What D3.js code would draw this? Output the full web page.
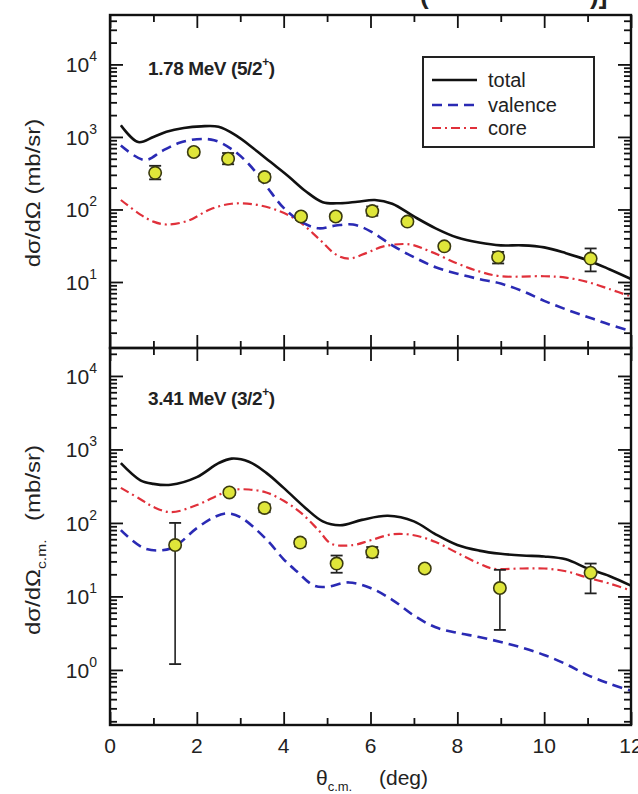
<!DOCTYPE html>
<html>
<head>
<meta charset="utf-8">
<script src="https://cdn.jsdelivr.net/npm/d3@7.9.0/dist/d3.min.js"></script>
<style>
  body { margin: 0; background: #fff; }
  text { font-family: "Liberation Sans", Arial, sans-serif; fill: #222; }
</style>
</head>
<body>
<svg id="chart" width="638" height="794"></svg>
<script>
// ---- data (angle in deg, cross section in mb/sr) ----
// top panel: 1.78 MeV (5/2+)
const topTotalX = [0.25, 0.65, 1.0, 1.3, 1.7, 2.1, 2.5, 2.9, 3.3, 3.7, 4.1, 4.5, 4.9, 5.3, 5.7, 6.1, 6.5, 7.0, 7.5, 8.0, 8.5, 9.0, 9.5, 10.0, 10.5, 11.0, 11.5, 12.0];
const topTotalY = [1450, 850, 1000, 1180, 1330, 1400, 1380, 1050, 700, 450, 290, 180, 126, 122, 128, 135, 120, 80, 55, 41, 35, 32, 32, 30, 25, 20, 15, 11];
const topValX = [0.25, 0.8, 1.2, 1.6, 2.0, 2.4, 2.8, 3.2, 3.6, 4.0, 4.4, 4.8, 5.2, 5.6, 6.0, 6.5, 7.0, 7.5, 8.0, 8.5, 9.0, 9.5, 10.0, 10.5, 11.0, 11.5, 12.0];
const topValY = [760, 480, 640, 830, 930, 900, 680, 420, 210, 105, 68, 55, 60, 62, 50, 32, 22, 16, 13, 11, 9.5, 7.5, 5.5, 4.2, 3.3, 2.6, 2.1];
const topCoreX = [0.25, 0.7, 1.0, 1.3, 1.8, 2.3, 2.8, 3.3, 3.8, 4.3, 4.8, 5.2, 5.5, 5.9, 6.3, 6.9, 7.4, 8.0, 8.5, 9.0, 10.0, 10.5, 11.0, 11.5, 12.0];
const topCoreY = [135, 85, 68, 62, 70, 100, 120, 118, 100, 72, 40, 24, 21, 25, 31, 33, 26, 18, 14, 12, 12, 11.5, 10, 8, 6.3];
const topDataX = [1.04, 1.93, 2.72, 3.56, 4.4, 5.2, 6.04, 6.85, 7.7, 8.94, 11.07];
const topDataY = [320, 620, 500, 280, 80, 80, 95, 68, 31, 22, 21];
const topDataLo = [260, 560, 420, 250, 72, 72, 82, 62, 28, 18, 14];
const topDataHi = [400, 680, 600, 310, 88, 88, 110, 74, 34, 26, 29];

// bottom panel: 3.41 MeV (3/2+)
const botTotalX = [0.25, 0.7, 1.0, 1.4, 2.0, 2.5, 2.8, 3.2, 3.6, 4.0, 4.5, 4.9, 5.3, 5.8, 6.4, 7.0, 7.5, 8.0, 8.5, 9.0, 9.5, 10.0, 10.5, 11.0, 11.5, 12.0];
const botTotalY = [650, 380, 340, 330, 420, 650, 750, 680, 480, 300, 160, 105, 93, 110, 125, 105, 70, 50, 42, 38, 36, 35, 32, 24, 19, 14];
const botValX = [0.25, 0.8, 1.4, 2.0, 2.4, 2.7, 3.0, 3.6, 4.0, 4.3, 4.7, 5.0, 5.5, 6.0, 6.5, 7.0, 7.5, 8.0, 8.5, 9.0, 9.5, 10.0, 10.5, 11.0, 11.5, 12.0];
const botValY = [80, 45, 45, 85, 120, 135, 120, 60, 32, 22, 14, 13.5, 15.5, 13, 9, 5.5, 3.8, 3.2, 2.8, 2.4, 2.0, 1.6, 1.2, 0.85, 0.65, 0.52];
const botCoreX = [0.25, 0.7, 1.0, 1.4, 2.0, 2.5, 2.8, 3.2, 3.6, 4.0, 4.4, 4.8, 5.1, 5.6, 6.0, 6.5, 7.0, 7.5, 8.0, 8.5, 8.8, 9.5, 10.0, 10.5, 11.0, 11.5, 12.0];
const botCoreY = [300, 210, 165, 140, 175, 240, 280, 285, 260, 200, 137, 80, 52, 50, 58, 70, 68, 55, 39, 28, 24, 24, 24, 22, 18, 15, 12];
const botDataX = [1.5, 2.75, 3.56, 4.38, 5.22, 6.04, 7.25, 8.98, 11.07];
const botDataY = [50, 260, 160, 54, 28, 40, 24, 13, 21];
const botDataLo = [1.2, 240, 140, 48, 21, 34, 22, 3.5, 11];
const botDataHi = [100, 285, 180, 60, 36, 47, 26, 23, 28];

const xMajor = [0, 2, 4, 6, 8, 10, 12];
const xMinor = [1, 3, 5, 7, 9, 11];
const legendLabels = ['total', 'valence', 'core'];

// ---- layout ----
const svg = d3.select('#chart');
const left = 110, right = 631;
const x = d3.scaleLinear().domain([0, 12]).range([left, right]);

const styles = {
  total: { stroke: '#111', width: 2.6, dash: null },
  valence: { stroke: '#2a2ab4', width: 2.6, dash: '10,6' },
  core: { stroke: '#e0303a', width: 2.2, dash: '9,4,2,4' }
};

const panels = [
  {
    top: 15, bottom: 348, domain: [1.23, 4.8e4], majors: [1e1, 1e2, 1e3, 1e4],
    label: '1.78 MeV (5/2', labelY: 75,
    curves: [['total', topTotalX, topTotalY], ['valence', topValX, topValY], ['core', topCoreX, topCoreY]],
    pts: [topDataX, topDataY, topDataLo, topDataHi], titleSub: null, titleY: 193
  },
  {
    top: 348, bottom: 725, domain: [0.178, 2.4e4], majors: [1e0, 1e1, 1e2, 1e3, 1e4],
    label: '3.41 MeV (3/2', labelY: 405,
    curves: [['total', botTotalX, botTotalY], ['valence', botValX, botValY], ['core', botCoreX, botCoreY]],
    pts: [botDataX, botDataY, botDataLo, botDataHi], titleSub: 'c.m.', titleY: 540
  }
];

function minorsFor(domain) {
  const out = [];
  for (let e = -1; e <= 5; e++) {
    for (let m = 2; m <= 9; m++) {
      const v = m * Math.pow(10, e);
      if (v > domain[0] && v < domain[1]) out.push(v);
    }
  }
  return out;
}

panels.forEach((p, pi) => {
  const y = d3.scaleLog().domain(p.domain).range([p.bottom, p.top]);
  const g = svg.append('g');

  const clipId = 'clip' + pi;
  svg.append('clipPath').attr('id', clipId)
    .append('rect').attr('x', left).attr('y', p.top).attr('width', right - left).attr('height', p.bottom - p.top);

  // curves
  const line = d3.line()
    .x((d) => x(d[0]))
    .y((d) => y(d[1]))
    .curve(d3.curveCatmullRom.alpha(0.5));
  const curveG = g.append('g').attr('clip-path', `url(#${clipId})`);
  // draw core first, then valence, total on top
  [2, 1, 0].forEach((ci) => {
    const [name, xs, ys] = p.curves[ci];
    const st = styles[name];
    curveG.append('path')
      .attr('d', line(xs.map((v, i) => [v, ys[i]])))
      .attr('fill', 'none')
      .attr('stroke', st.stroke)
      .attr('stroke-width', st.width)
      .attr('stroke-dasharray', st.dash)
      .attr('stroke-linecap', 'butt');
  });

  // data with error bars
  const [dx, dy, dlo, dhi] = p.pts;
  const capW = 6;
  dx.forEach((v, i) => {
    const cx = x(v);
    const eg = g.append('g');
    eg.append('line').attr('x1', cx).attr('x2', cx).attr('y1', y(dlo[i])).attr('y2', y(dhi[i]))
      .attr('stroke', '#222').attr('stroke-width', 1.6);
    [dlo[i], dhi[i]].forEach((e) => {
      eg.append('line').attr('x1', cx - capW).attr('x2', cx + capW).attr('y1', y(e)).attr('y2', y(e))
        .attr('stroke', '#222').attr('stroke-width', 1.8);
    });
    eg.append('circle').attr('cx', cx).attr('cy', y(dy[i])).attr('r', 6.2)
      .attr('fill', '#dfe63a').attr('stroke', '#3b3b10').attr('stroke-width', 1.6);
  });

  // axes: ticks pointing inward on all four sides
  const minors = minorsFor(p.domain);
  const addY = (axisFn, xpos, values, size) => {
    g.append('g').attr('transform', `translate(${xpos},0)`)
      .call(axisFn(y).tickValues(values).tickSizeInner(-size).tickSizeOuter(0).tickFormat(''))
      .call((a) => a.select('.domain').remove())
      .call((a) => a.selectAll('line').attr('stroke', '#111').attr('stroke-width', 1.8));
  };
  addY(d3.axisLeft, left, p.majors, 13);
  addY(d3.axisLeft, left, minors, 7);
  addY(d3.axisRight, right, p.majors, 13);
  addY(d3.axisRight, right, minors, 7);

  const addX = (axisFn, ypos, values, size) => {
    g.append('g').attr('transform', `translate(0,${ypos})`)
      .call(axisFn(x).tickValues(values).tickSizeInner(-size).tickSizeOuter(0).tickFormat(''))
      .call((a) => a.select('.domain').remove())
      .call((a) => a.selectAll('line').attr('stroke', '#111').attr('stroke-width', 1.8));
  };
  addX(d3.axisBottom, p.bottom, xMajor, 13);
  addX(d3.axisBottom, p.bottom, xMinor, 7);
  addX(d3.axisTop, p.top, xMajor, 13);
  addX(d3.axisTop, p.top, xMinor, 7);

  // y tick labels 10^n
  p.majors.forEach((v) => {
    const t = g.append('text').attr('x', 97).attr('y', y(v) + 8)
      .attr('text-anchor', 'end').attr('font-size', 21);
    t.append('tspan').text('10');
    t.append('tspan').attr('font-size', 14).attr('dy', -11).text(Math.round(Math.log10(v)));
  });

  // panel label
  const lab = g.append('text').attr('x', 148).attr('y', p.labelY)
    .attr('font-size', 19).attr('font-weight', 'bold').attr('letter-spacing', -0.4);
  lab.append('tspan').text(p.label);
  lab.append('tspan').attr('font-size', 12).attr('dy', -9).text('+');
  lab.append('tspan').attr('dy', 9).text(')');

  // y-axis title
  const yt = g.append('text')
    .attr('transform', `translate(40,${p.titleY}) rotate(-90) scale(1.2,1)`)
    .attr('text-anchor', 'middle').attr('font-size', 20);
  yt.append('tspan').text('d\u03c3/d\u03a9');
  if (p.titleSub) {
    yt.append('tspan').attr('font-size', 13).attr('dy', 6).text(p.titleSub);
    yt.append('tspan').attr('dy', -6).text('\u2002 (mb/sr)');
  } else {
    yt.append('tspan').text(' (mb/sr)');
  }

  // frame
  g.append('rect').attr('x', left).attr('y', p.top).attr('width', right - left).attr('height', p.bottom - p.top)
    .attr('fill', 'none').attr('stroke', '#111').attr('stroke-width', 2.4);
});

// x tick labels and title
xMajor.forEach((v) => {
  svg.append('text').attr('x', x(v)).attr('y', 753).attr('text-anchor', 'middle')
    .attr('font-size', 21).text(v);
});
const xt = svg.append('text').attr('x', 372).attr('y', 785).attr('text-anchor', 'middle').attr('font-size', 21);
xt.append('tspan').text('\u03b8');
xt.append('tspan').attr('font-size', 13).attr('dy', 6).text('c.m.');
xt.append('tspan').attr('dy', -6).text('\u2003 (deg)');

// legend
const lg = svg.append('g');
lg.append('rect').attr('x', 423).attr('y', 57).attr('width', 171).attr('height', 90)
  .attr('fill', '#fff').attr('stroke', '#222').attr('stroke-width', 2);
const rowY = [80, 105, 128];
legendLabels.forEach((name, i) => {
  const st = styles[name];
  lg.append('line').attr('x1', 432).attr('x2', 477).attr('y1', rowY[i]).attr('y2', rowY[i])
    .attr('stroke', st.stroke).attr('stroke-width', st.width).attr('stroke-dasharray', st.dash);
  lg.append('text').attr('x', 488).attr('y', rowY[i] + 7).attr('font-size', 20).text(name);
});

// top title, cut off by the page edge
svg.append('text').attr('x', 420).attr('y', 4).attr('font-size', 26).attr('font-weight', 'bold').text('(');
svg.append('text').attr('x', 590).attr('y', 4).attr('font-size', 26).attr('font-weight', 'bold').text(')]');
</script>
</body>
</html>
